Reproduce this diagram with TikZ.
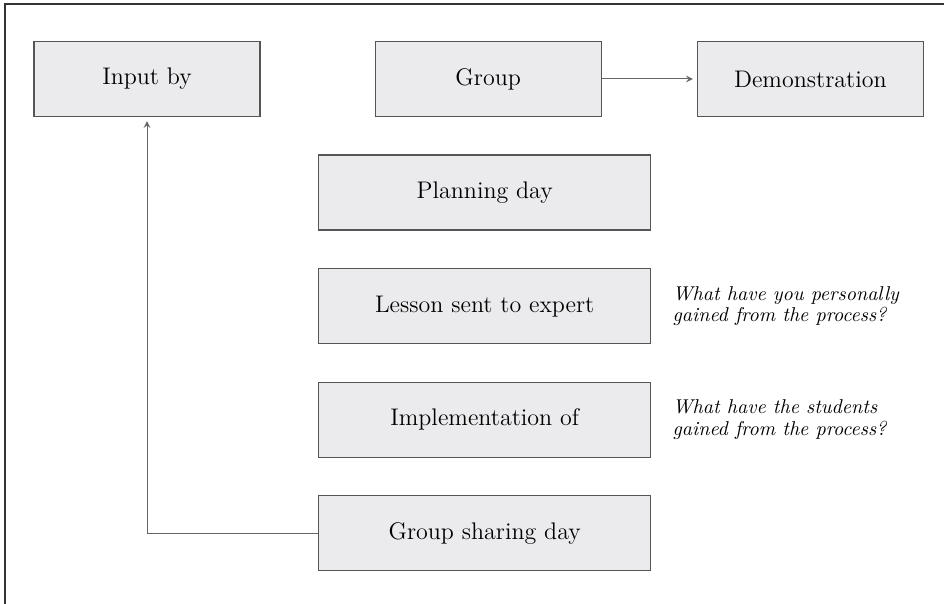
\documentclass[tikz,border=0pt]{standalone}
\usetikzlibrary{positioning}
\definecolor{boxfill}{HTML}{EBEBED}
\definecolor{boxline}{HTML}{555555}
\definecolor{linkgray}{HTML}{666666}
\begin{document}
\begin{tikzpicture}[>=stealth,thin,node distance=18.7pt,
  small box/.style={draw=boxline,fill=boxfill,line width=0.6pt,minimum width=113pt,minimum height=37.5pt,font=\fontsize{12}{14}\selectfont},
  wide box/.style={small box,minimum width=166pt},
  note/.style={align=left,inner sep=0pt,font=\fontsize{10}{10.8}\selectfont\itshape},
  link/.style={->,draw=linkgray,line width=0.5pt,shorten >=2pt}]
\useasboundingbox (0,0) rectangle (472pt,-302pt);
\draw[line width=0.8pt,black!80] (2.5pt,-302pt) -- (2.5pt,-2pt) -- (472pt,-2pt);

\node[small box] (input) at (73.5pt,-39.5pt) {Input by};
\node[small box] (group) [right=57pt of input] {Group};
\node[small box] (demo) [right=47.5pt of group] {Demonstration};
\node[wide box] (plan) [below=of group,xshift=-1.75pt] {Planning day};
\node[wide box] (lesson) [below=of plan] {Lesson sent to expert};
\node[wide box] (impl) [below=of lesson] {Implementation of};
\node[wide box] (share) [below=of impl] {Group sharing day};
\node[note] (gainself) [right=10.5pt of lesson] {What have you personally\\gained from the process?};
\node[note] (gainstud) [right=10.5pt of impl] {What have the students\\gained from the process?};

\draw[link] (group) -- (demo);
\draw[link] (share.west) -| (input.south);
\end{tikzpicture}
\end{document}
